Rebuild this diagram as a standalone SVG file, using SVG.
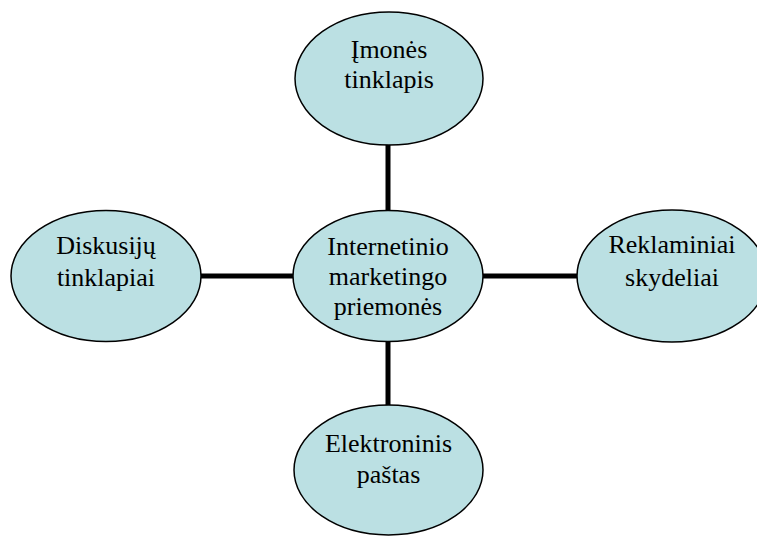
<svg xmlns="http://www.w3.org/2000/svg" width="757" height="536" viewBox="0 0 757 536">
  <style>
    .node ellipse { fill: #BBE0E3; stroke: #000; stroke-width: 1.5; }
    .node text { font-family: "Liberation Serif", "Times New Roman", serif; font-size: 26px; fill: #000; text-anchor: middle; }
    .link { stroke: #000; stroke-width: 5; fill: none; }
  </style>
  <rect width="757" height="536" fill="#fff"/>

  <!-- connectors from the hub to each tool -->
  <g id="connectors">
    <line class="link" x1="388" y1="144" x2="388" y2="212"/>
    <line class="link" x1="388" y1="341" x2="388" y2="406"/>
    <line class="link" x1="200" y1="276" x2="294" y2="276"/>
    <line class="link" x1="483" y1="276" x2="578" y2="276"/>
  </g>

  <g id="imones-tinklapis" class="node">
    <ellipse cx="389" cy="78.5" rx="94" ry="66.5"/>
    <text x="389" y="58">Įmonės</text>
    <text x="389" y="88">tinklapis</text>
  </g>

  <g id="internetinio-marketingo-priemones" class="node">
    <ellipse cx="388" cy="276" rx="95" ry="65.5"/>
    <text x="388" y="255">Internetinio</text>
    <text x="388" y="285">marketingo</text>
    <text x="388" y="315">priemonės</text>
  </g>

  <g id="diskusiju-tinklapiai" class="node">
    <ellipse cx="106" cy="276" rx="95" ry="65.5"/>
    <text x="106" y="254">Diskusijų</text>
    <text x="106" y="286">tinklapiai</text>
  </g>

  <g id="reklaminiai-skydeliai" class="node">
    <ellipse cx="672" cy="276" rx="95" ry="66"/>
    <text x="672" y="253">Reklaminiai</text>
    <text x="672" y="286">skydeliai</text>
  </g>

  <g id="elektroninis-pastas" class="node">
    <ellipse cx="388.5" cy="470" rx="94.5" ry="65"/>
    <text x="388.5" y="452">Elektroninis</text>
    <text x="388.5" y="483">paštas</text>
  </g>
</svg>
